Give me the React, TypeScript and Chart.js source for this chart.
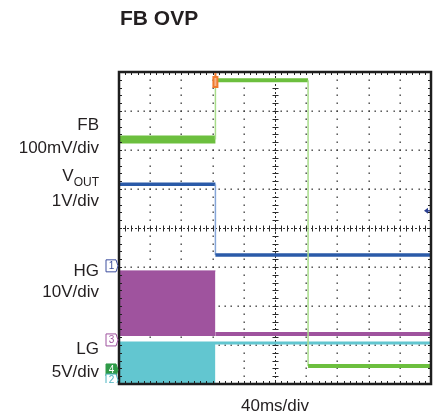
import React, { useEffect, useRef } from "react";
import { Chart, registerables } from "chart.js";

Chart.register(...registerables);

// Screen: 10 horizontal divisions (40 ms/div) x 8 vertical divisions
const xDivisions = 10;
const yDivisions = 8;

// Trace data, in screen divisions (x: time divisions, y: vertical divisions)
const fbTime = [0, 3.09, 3.09, 6.06, 6.06, 10];
const fbLevel = [6.27, 6.27, 7.79, 7.79, 0.46, 0.46];

const voutTime = [0, 3.09, 3.09, 10];
const voutLevel = [5.12, 5.12, 3.31, 3.31];

const hgSwitchTime = [0, 3.09];
const hgSwitchHigh = [2.9, 2.9];
const hgSwitchLow = 1.23;
const hgOffTime = [3.09, 10];
const hgOffLevel = [1.28, 1.28];

const lgSwitchTime = [0, 3.09];
const lgSwitchHigh = [1.05, 1.05];
const lgSwitchLow = 0.02;
const lgTime = [0, 10];
const lgLevel = [1.05, 1.05];

// Channel ground markers (division levels) and trigger
const markerLabels = ["1", "3", "4", "2"];
const markerLevels = [3.03, 1.13, 0.36, 0.1];
const triggerTime = 3.09;
const triggerLevelArrow = 4.44;

const pts = (xs: number[], ys: number[]) => xs.map((x, i) => ({ x, y: ys[i] }));

const GREEN = "#6cbf3e";
const GREEN_THIN = "#a8dc8a";
const BLUE = "#2a5aa8";
const BLUE_THIN = "#86a6d8";
const PURPLE = "#9f539e";
const CYAN = "#62c6d0";

const gridPlugin = {
  id: "scopeGrid",
  beforeDatasetsDraw(chart: any) {
    const { ctx, chartArea: a, scales } = chart;
    const xs = scales.x;
    const ys = scales.y;
    ctx.save();
    ctx.fillStyle = "#3a3a3a";
    // dotted grid lines
    for (let i = 1; i < xDivisions; i++) {
      if (i === xDivisions / 2) continue;
      const px = Math.round(xs.getPixelForValue(i));
      for (let k = 1; k < yDivisions * 5; k++) {
        const py = Math.round(ys.getPixelForValue(k * 0.2));
        ctx.fillRect(px - 0.5, py - 0.5, 1.4, 1.4);
      }
    }
    for (let j = 1; j < yDivisions; j++) {
      if (j === yDivisions / 2) continue;
      const py = Math.round(ys.getPixelForValue(j));
      for (let k = 1; k < xDivisions * 5; k++) {
        const px = Math.round(xs.getPixelForValue(k * 0.2));
        ctx.fillRect(px - 0.5, py - 0.5, 1.4, 1.4);
      }
    }
    // centre cross-hair
    ctx.strokeStyle = "#2a2a2a";
    ctx.lineWidth = 1;
    ctx.setLineDash([2, 2]);
    const cx = Math.round(xs.getPixelForValue(xDivisions / 2)) + 0.5;
    const cy = Math.round(ys.getPixelForValue(yDivisions / 2)) + 0.5;
    ctx.beginPath();
    ctx.moveTo(cx, a.top);
    ctx.lineTo(cx, a.bottom);
    ctx.moveTo(a.left, cy);
    ctx.lineTo(a.right, cy);
    ctx.stroke();
    ctx.setLineDash([]);
    ctx.beginPath();
    for (let k = 1; k < yDivisions * 5; k++) {
      const py = Math.round(ys.getPixelForValue(k * 0.2)) + 0.5;
      ctx.moveTo(cx - 3, py);
      ctx.lineTo(cx + 3, py);
    }
    for (let k = 1; k < xDivisions * 5; k++) {
      const px = Math.round(xs.getPixelForValue(k * 0.2)) + 0.5;
      ctx.moveTo(px, cy - 3);
      ctx.lineTo(px, cy + 3);
    }
    ctx.stroke();
    ctx.restore();
  },
  afterDatasetsDraw(chart: any) {
    const { ctx, chartArea: a, scales } = chart;
    const xs = scales.x;
    const ys = scales.y;
    ctx.save();
    // border ticks
    ctx.strokeStyle = "#222";
    ctx.lineWidth = 1;
    ctx.beginPath();
    for (let k = 1; k < xDivisions * 5; k++) {
      const px = Math.round(xs.getPixelForValue(k * 0.2)) + 0.5;
      ctx.moveTo(px, a.top);
      ctx.lineTo(px, a.top + 3);
      ctx.moveTo(px, a.bottom);
      ctx.lineTo(px, a.bottom - 3);
    }
    for (let k = 1; k < yDivisions * 5; k++) {
      const py = Math.round(ys.getPixelForValue(k * 0.2)) + 0.5;
      ctx.moveTo(a.left, py);
      ctx.lineTo(a.left + 3, py);
      ctx.moveTo(a.right, py);
      ctx.lineTo(a.right - 3, py);
    }
    ctx.stroke();
    // frame
    ctx.strokeStyle = "#1e1e1e";
    ctx.lineWidth = 2.5;
    ctx.strokeRect(a.left, a.top, a.right - a.left, a.bottom - a.top);

    // trigger marker at top
    const tx = xs.getPixelForValue(triggerTime);
    ctx.fillStyle = "#f07a2c";
    ctx.fillRect(tx - 3, a.top + 4, 6, 12);
    ctx.fillStyle = "#f6b48a";
    ctx.fillRect(tx - 1, a.top + 6, 2, 8);
    ctx.fillStyle = "#f07a2c";
    ctx.fillRect(tx - 1, a.top + 1, 2, 4);

    // trigger level arrow at right
    const ay = ys.getPixelForValue(triggerLevelArrow);
    ctx.fillStyle = "#2b3f8f";
    ctx.strokeStyle = "#2b3f8f";
    ctx.beginPath();
    ctx.moveTo(a.right - 7, ay);
    ctx.lineTo(a.right - 3, ay - 3);
    ctx.lineTo(a.right - 3, ay + 3);
    ctx.closePath();
    ctx.fill();
    ctx.lineWidth = 1.5;
    ctx.beginPath();
    ctx.moveTo(a.right - 4, ay);
    ctx.lineTo(a.right - 1, ay);
    ctx.stroke();

    // channel markers
    const styles = [
      { stroke: "#3d4e9e", fill: "#ffffff", text: "#3d4e9e" },
      { stroke: "#9f539e", fill: "#ffffff", text: "#9f539e" },
      { stroke: "#2f9a48", fill: "#2f9a48", text: "#ffffff" },
      { stroke: "#4bb3c0", fill: "#ffffff", text: "#4bb3c0" },
    ];
    ctx.save();
    ctx.beginPath();
    ctx.rect(0, 0, chart.width, a.bottom - 1);
    ctx.clip();
    markerLabels.forEach((lab, i) => {
      const py = ys.getPixelForValue(markerLevels[i]);
      const st = styles[i];
      const l = a.left - 13;
      const r = a.left - 3;
      ctx.beginPath();
      ctx.moveTo(l, py - 6);
      ctx.lineTo(r, py - 6);
      ctx.lineTo(r + 2, py);
      ctx.lineTo(r, py + 6);
      ctx.lineTo(l, py + 6);
      ctx.closePath();
      ctx.fillStyle = st.fill;
      ctx.fill();
      ctx.lineWidth = 1;
      ctx.strokeStyle = st.stroke;
      ctx.stroke();
      ctx.fillStyle = st.text;
      ctx.font = "10px 'Liberation Sans', Arial, sans-serif";
      ctx.textAlign = "center";
      ctx.textBaseline = "middle";
      ctx.fillText(lab, (l + r) / 2 + 0.5, py + 0.5);
    });
    ctx.restore();
    ctx.restore();
  },
};

const vertical = (c: any) => c.p0.parsed.x === c.p1.parsed.x;

export default function App() {
  const ref = useRef<HTMLCanvasElement | null>(null);

  useEffect(() => {
    if (!ref.current) return;
    const chart = new Chart(ref.current, {
      type: "line",
      data: {
        datasets: [
          {
            label: "FB",
            data: pts(fbTime, fbLevel),
            borderColor: GREEN,
            borderWidth: 3,
            pointRadius: 0,
            fill: false,
            order: 1,
            segment: {
              borderColor: (c: any) => (vertical(c) ? GREEN_THIN : GREEN),
              borderWidth: (c: any) =>
                vertical(c) ? 1.5 : c.p0.parsed.x < 1e-9 ? 8 : 4,
            },
          } as any,
          {
            label: "VOUT",
            data: pts(voutTime, voutLevel),
            borderColor: BLUE,
            borderWidth: 3,
            pointRadius: 0,
            fill: false,
            order: 2,
            segment: {
              borderColor: (c: any) => (vertical(c) ? BLUE_THIN : BLUE),
              borderWidth: (c: any) => (vertical(c) ? 1.5 : 3.5),
            },
          } as any,
          {
            label: "HG switching",
            data: pts(hgSwitchTime, hgSwitchHigh),
            borderColor: PURPLE,
            backgroundColor: PURPLE,
            borderWidth: 1,
            pointRadius: 0,
            fill: { value: hgSwitchLow },
            order: 4,
          },
          {
            label: "HG",
            data: pts(hgOffTime, hgOffLevel),
            borderColor: PURPLE,
            borderWidth: 4,
            pointRadius: 0,
            fill: false,
            order: 4,
          },
          {
            label: "LG switching",
            data: pts(lgSwitchTime, lgSwitchHigh),
            borderColor: CYAN,
            backgroundColor: CYAN,
            borderWidth: 1,
            pointRadius: 0,
            fill: { value: lgSwitchLow },
            order: 3,
          },
          {
            label: "LG",
            data: pts(lgTime, lgLevel),
            borderColor: CYAN,
            borderWidth: 3,
            pointRadius: 0,
            fill: false,
            order: 3,
          },
        ],
      },
      options: {
        responsive: false,
        devicePixelRatio: 1,
        animation: false,
        events: [],
        layout: { padding: { left: 119, top: 72, right: 6, bottom: 31 } },
        plugins: { legend: { display: false }, tooltip: { enabled: false }, title: { display: false } },
        scales: {
          x: { type: "linear", min: 0, max: xDivisions, display: false },
          y: { type: "linear", min: 0, max: yDivisions, display: false },
        },
      },
      plugins: [gridPlugin],
    });
    return () => chart.destroy();
  }, []);

  const font = "'Liberation Sans', Arial, Helvetica, sans-serif";
  const lab = (top: number, content: React.ReactNode) => (
    <div
      style={{
        position: "absolute",
        top,
        right: 437 - 99,
        fontSize: 17,
        lineHeight: "20px",
        whiteSpace: "nowrap",
        textAlign: "right",
        color: "#231f20",
        fontFamily: font,
      }}
    >
      {content}
    </div>
  );

  return (
    <div style={{ position: "absolute", left: 0, top: 0, width: 437, height: 415, background: "#fff", fontFamily: font }}>
      <canvas ref={ref} width={437} height={415} style={{ position: "absolute", left: 0, top: 0, width: 437, height: 415 }} />
      <div
        style={{
          position: "absolute",
          left: 120,
          top: 6,
          fontSize: 21,
          lineHeight: "24px",
          fontWeight: "bold",
          color: "#231f20",
          whiteSpace: "nowrap",
        }}
      >
        FB OVP
      </div>
      {lab(115, "FB")}
      {lab(138, "100mV/div")}
      {lab(166, (
        <span>
          V<span style={{ fontSize: 12, verticalAlign: "-5px" }}>OUT</span>
        </span>
      ))}
      {lab(191, "1V/div")}
      {lab(261, "HG")}
      {lab(282, "10V/div")}
      {lab(339, "LG")}
      {lab(362, "5V/div")}
      <div
        style={{
          position: "absolute",
          left: 119,
          width: 312,
          top: 396,
          fontSize: 17,
          lineHeight: "20px",
          textAlign: "center",
          color: "#231f20",
          whiteSpace: "nowrap",
        }}
      >
        40ms/div
      </div>
    </div>
  );
}
